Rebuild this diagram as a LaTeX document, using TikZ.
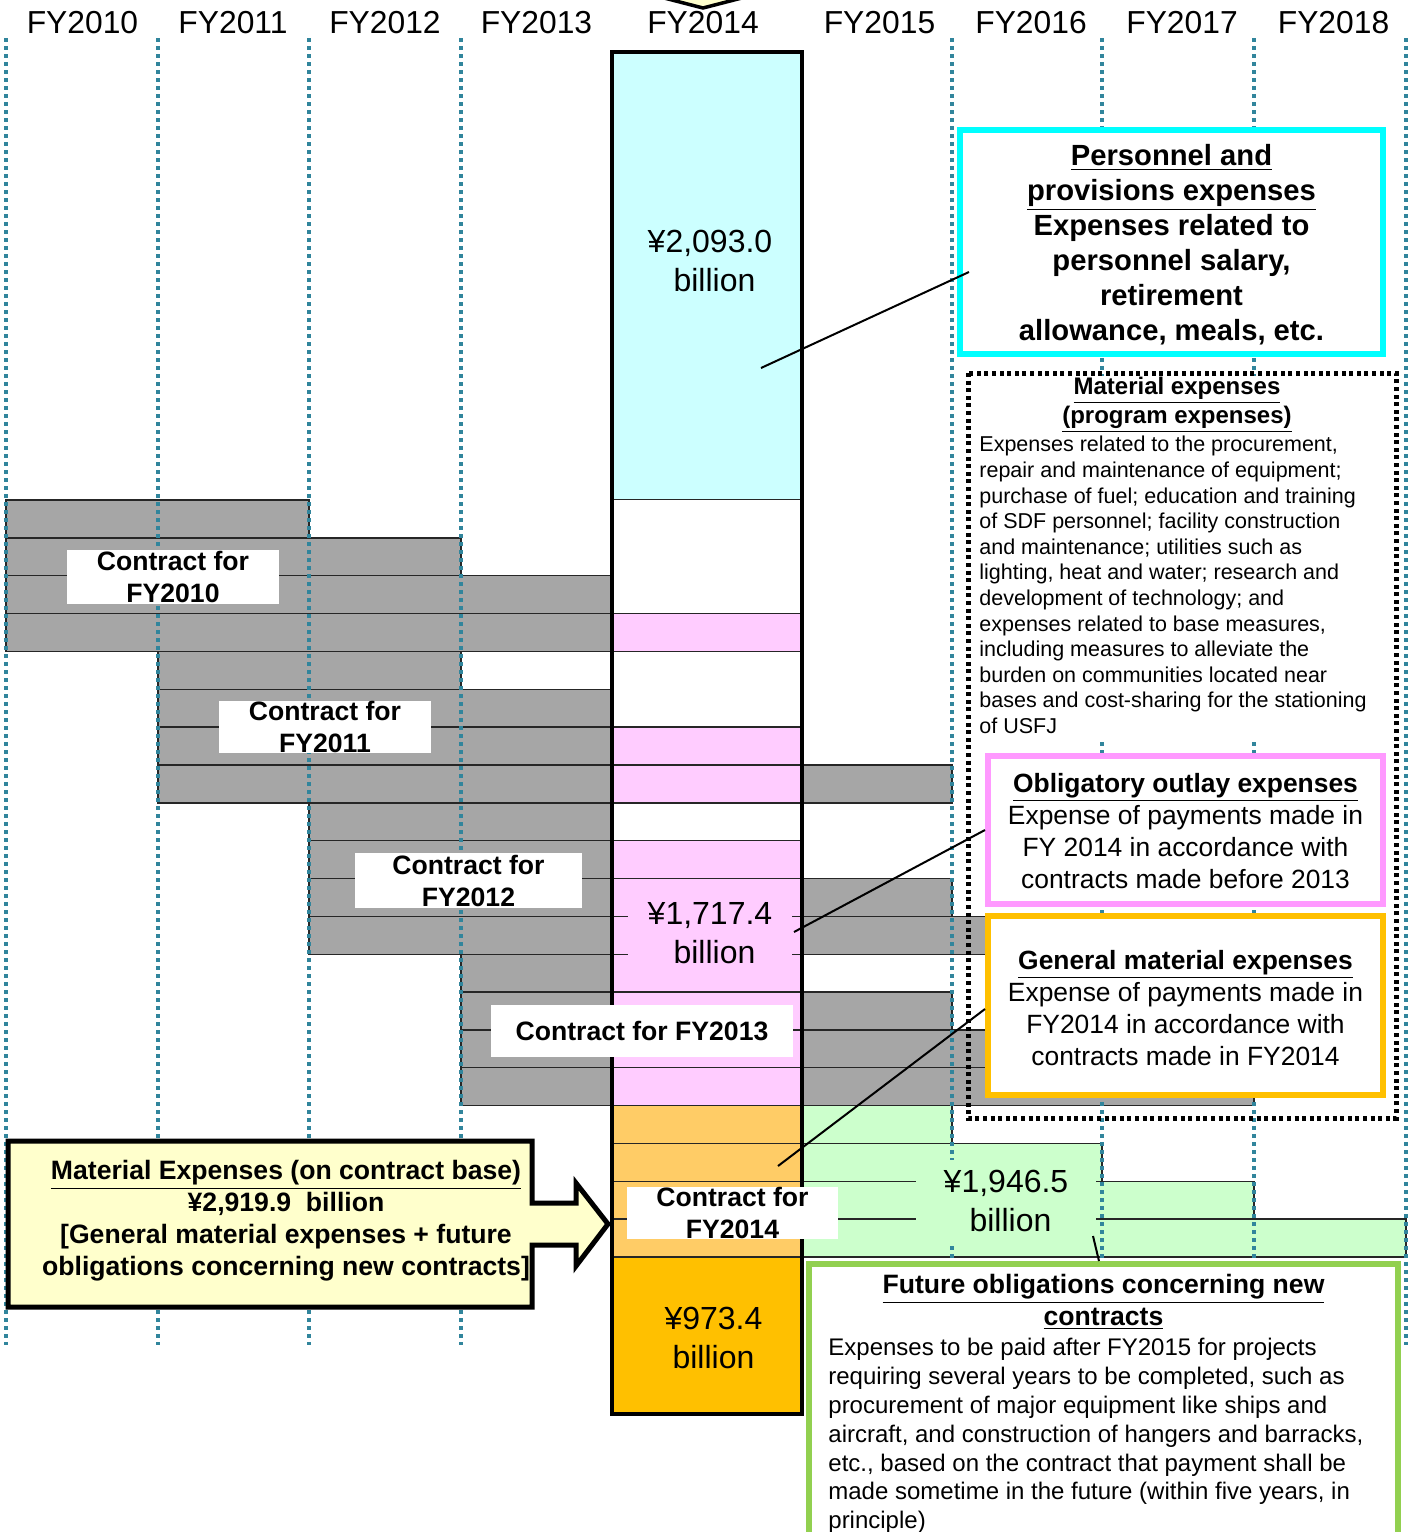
\documentclass[tikz,border=0pt]{standalone}
\usepackage{fontspec}
\setmainfont{Liberation Sans}
\definecolor{cyanfill}{HTML}{CCFFFF}
\definecolor{pinkfill}{HTML}{FFCCFF}
\definecolor{orangefill}{HTML}{FFCC66}
\definecolor{orangedark}{HTML}{FFC000}
\definecolor{greenfill}{HTML}{CCFFCC}
\definecolor{grayfill}{HTML}{A6A6A6}
\definecolor{tealline}{HTML}{31859C}
\definecolor{cyanline}{HTML}{00FFFF}
\definecolor{pinkline}{HTML}{FF99FF}
\definecolor{greenline}{HTML}{92D050}
\definecolor{yellowfill}{HTML}{FFFFCC}
\newcommand{\sizefont}[2]{\fontsize{#1}{#2}\selectfont}
\begin{document}
\begin{tikzpicture}[x=0.5pt, y=-0.5pt,
		cell/.style={draw=black!85, line width=0.7pt},
		gridline/.style={draw=tealline, line width=2pt, dash pattern=on 2pt off 2pt},
		leader/.style={draw=black, line width=1pt},
		yearlabel/.style={anchor=base, inner sep=0pt, font=\sizefont{15.9}{19}},
		value/.style={inner sep=0pt, align=center, font=\sizefont{16}{19.5}},
		contract/.style={fill=white, inner sep=0pt, align=center, font=\bfseries\sizefont{13.3}{16}},
		notebox/.style={line width=3pt, fill=white},
		notetext/.style={inner sep=0pt, align=center, font=\sizefont{13.2}{16}}]
	\useasboundingbox (0,0) rectangle (1410,1532);
	\fill[white] (0,0) rectangle (1410,1532);
	% arrow tip coming from above
	\draw[line width=1.75pt, fill=yellowfill] (641,-8) -- (703,8) -- (765,-8);
	% years
	\foreach \x/\t in {82.5/FY2010, 233/FY2011, 385/FY2012, 536.5/FY2013, 703/FY2014, 879.5/FY2015, 1031/FY2016, 1182/FY2017, 1333.5/FY2018}
		\node[yearlabel] (y\t) at (\x,33.5) {\t};
	% contracts before FY2014
	\foreach \r/\a/\b in {0/6/309, 1/6/461, 2/6/612, 3/6/612, 4/158/461, 5/158/612, 6/158/612, 7/158/612, 8/309/612, 9/309/612, 10/309/612, 11/309/612, 12/461/612, 13/461/612, 14/461/612, 15/461/612}
		\draw[cell, fill=grayfill] (\a,{500+37.85*\r}) rectangle (\b,{500+37.85*(\r+1)});
	\foreach \r/\b in {7/952, 10/952, 11/1102, 13/952, 14/1102, 15/1254}
		\draw[cell, fill=grayfill] (802,{500+37.85*\r}) rectangle (\b,{500+37.85*(\r+1)});
	% contract for FY2014
	\foreach \r/\b in {16/952, 17/1102, 18/1254, 19/1406}
		\draw[cell, fill=greenfill] (802,{500+37.85*\r}) rectangle (\b,{500+37.85*(\r+1)});
	% FY2014 bar
	\draw[cell, fill=cyanfill] (612,52) rectangle (802,500);
	\fill[white] (612,500) rectangle (802,1257);
	\foreach \r/\c in {3/pinkfill, 6/pinkfill, 7/pinkfill, 9/pinkfill, 10/pinkfill, 11/pinkfill, 12/pinkfill, 13/pinkfill, 14/pinkfill, 15/pinkfill, 16/orangefill, 17/orangefill, 18/orangefill, 19/orangefill}
		\draw[cell, fill=\c] (612,{500+37.85*\r}) rectangle (802,{500+37.85*(\r+1)});
	\draw[cell, fill=orangedark] (612,1257) rectangle (802,1414);
	\foreach \x in {6,158,309,461,952,1102,1254,1406}
		\draw[gridline] (\x,38) -- (\x,1345);
	\draw[line width=1.75pt] (612,52) rectangle (802,1414);
	% amounts
	\node[value] (v2093) at (710,261) {¥2,093.0\\\hspace*{0.28em}billion};
	\node[value, fill=pinkfill, inner xsep=10pt, inner ysep=5pt] (v1717) at (710,933) {¥1,717.4\\\hspace*{0.28em}billion};
	\node[value, fill=greenfill, inner xsep=14pt, inner ysep=5pt] (v1946) at (1006,1201) {¥1,946.5\\\hspace*{0.28em}billion};
	\node[value] (v973) at (713.5,1337.5) {¥973.4\\billion};
	% contract labels
	\node[contract, minimum width=106pt, minimum height=27pt] (c2010) at (173,577) {Contract for\\FY2010};
	\node[contract, minimum width=106pt, minimum height=26pt] (c2011) at (325,727) {Contract for\\FY2011};
	\node[contract, minimum width=113.5pt, minimum height=27.5pt] (c2012) at (468.5,880.5) {Contract for\\FY2012};
	\node[contract, minimum width=151pt, minimum height=26pt] (c2013) at (642,1031) {Contract for FY2013};
	\node[contract, minimum width=105.5pt, minimum height=26pt] (c2014) at (732.5,1213) {Contract for\\FY2014};
	% material expenses on contract base
	\draw[line width=2.5pt, fill=yellowfill] (8,1141) -- (532,1141) -- (532,1203) -- (576,1203) -- (576,1183) -- (608,1224) -- (576,1266) -- (576,1245) -- (532,1245) -- (532,1307) -- (8,1307) -- cycle;
	\node[inner sep=0pt, align=center, font=\bfseries\sizefont{13.3}{16}] (mattotal) at (286,1221) {\underline{Material Expenses (on contract base)}\\¥2,919.9\ \ billion\\ {[}General material expenses + future\\obligations concerning new contracts]};
	% personnel
	\draw[notebox, draw=cyanline] (960,130) rectangle (1383,354);
	\node[inner sep=0pt, align=center, font=\bfseries\sizefont{14.6}{17.5}] (persnote) at (1171.5,245) {\underline{Personnel and}\\\underline{provisions expenses}\\Expenses related to\\personnel salary,\\retirement\\allowance, meals, etc.};
	% material (program)
	\fill[white] (971,376) rectangle (1393,742);
	\draw[line width=2.5pt, dash pattern=on 2pt off 1.8pt] (968,373) rectangle (1396,1118);
	\node[inner sep=0pt, align=center, font=\bfseries\sizefont{12}{14.5}] (mattitle) at (1177,405) {\underline{Material expenses}\\\underline{(program expenses)}};
	\node[inner sep=0pt, align=left, anchor=north west, font=\sizefont{10.75}{12.8}] (matbody) at (979,436) {Expenses related to the procurement,\\repair and maintenance of equipment;\\purchase of fuel; education and training\\of SDF personnel; facility construction\\and maintenance; utilities such as\\lighting, heat and water; research and\\development of technology; and\\expenses related to base measures,\\including measures to alleviate the\\burden on communities located near\\bases and cost-sharing for the stationing\\of USFJ};
	\draw[notebox, draw=pinkline] (988,756) rectangle (1383,904);
	\node[notetext] (oblnote) at (1185.5,831) {\textbf{\underline{Obligatory outlay expenses}}\\Expense of payments made in\\FY 2014 in accordance with\\contracts made before 2013};
	\draw[notebox, draw=orangedark] (988,916) rectangle (1383,1095);
	\node[notetext] (gennote) at (1185.5,1008) {\textbf{\underline{General material expenses}}\\Expense of payments made in\\FY2014 in accordance with\\contracts made in FY2014};
	% future obligations
	\draw[notebox, line width=2.75pt, draw=greenline] (809,1264) rectangle (1398,1545);
	\node[inner sep=0pt, align=center, font=\bfseries\sizefont{13.3}{16}] (futtitle) at (1103.5,1302) {\underline{Future obligations concerning new}\\\underline{contracts}};
	\node[inner sep=0pt, align=left, anchor=north west, font=\sizefont{12}{14.4}] (futbody) at (828,1338) {Expenses to be paid after FY2015 for projects\\requiring several years to be completed, such as\\procurement of major equipment like ships and\\aircraft, and construction of hangers and barracks,\\etc., based on the contract that payment shall be\\made sometime in the future (within five years, in\\principle)};
	% leaders
	\path
	(761,368) coordinate (L1a)
	(969,272) coordinate (L1b)
	(794,932) coordinate (L2a)
	(985,830) coordinate (L2b)
	(778,1166) coordinate (L3a)
	(985,1009) coordinate (L3b)
	(1093,1236) coordinate (L4a)
	(1099,1261) coordinate (L4b)
	;
	\draw[leader] (L1a) -- (L1b);
	\draw[leader] (L2a) -- (L2b);
	\draw[leader] (L3a) -- (L3b);
	\draw[leader] (L4a) -- (L4b);
\end{tikzpicture}
\end{document}
